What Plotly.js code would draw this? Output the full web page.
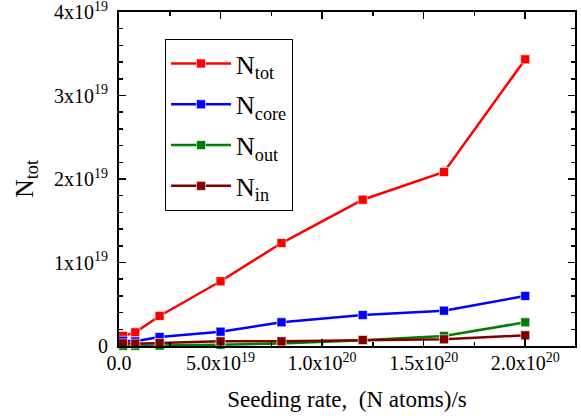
<!DOCTYPE html>
<html>
<head>
<meta charset="utf-8">
<script src="https://cdn.plot.ly/plotly-3.0.1.min.js"></script>
<style>html,body{margin:0;padding:0;background:#fff;}#chart{width:581px;height:419px;}</style>
</head>
<body>
<div id="chart"></div>
<script>
// Seeding rate, (N atoms)/s
const seeding = [2e18, 8e18, 2e19, 5e19, 8e19, 1.2e20, 1.6e20, 2.0e20];
const nTot  = [1.2e18, 1.64e18, 3.6e18, 7.75e18, 1.233e19, 1.752e19, 2.084e19, 3.433e19];
const nCore = [0.63e18, 0.56e18, 1.08e18, 1.71e18, 2.84e18, 3.71e18, 4.23e18, 5.99e18];
const nOut  = [0.02e18, 0.02e18, 0.05e18, 0.15e18, 0.3e18, 0.7e18, 1.2e18, 2.84e18];
const nIn   = [0.32e18, 0.28e18, 0.36e18, 0.56e18, 0.56e18, 0.72e18, 0.8e18, 1.28e18];

const seriesNames  = ['N<sub>tot</sub>', 'N<sub>core</sub>', 'N<sub>out</sub>', 'N<sub>in</sub>'];
const seriesColors = ['#ff0000', '#0000ff', '#008000', '#800000'];
const seriesValues = [nTot, nCore, nOut, nIn];

const xTickVals = [0, 5e19, 1e20, 1.5e20, 2e20];
const xTickText = ['0.0', '5.0x10<sup>19</sup>', '1.0x10<sup>20</sup>', '1.5x10<sup>20</sup>', '2.0x10<sup>20</sup>'];
const yTickVals = [0, 1e19, 2e19, 3e19, 4e19];
const yTickText = ['0', '1x10<sup>19</sup>', '2x10<sup>19</sup>', '3x10<sup>19</sup>', '4x10<sup>19</sup>'];

const font = 'Liberation Serif';

const traces = seriesValues.map((vals, i) => ({
  x: seeding, y: vals, name: seriesNames[i], legendgroup: 'g' + i,
  type: 'scatter', mode: 'lines+markers',
  line: {color: seriesColors[i], width: 2.5},
  marker: {symbol: 'square', size: 9, color: seriesColors[i], line: {color: 'rgba(255,255,255,0.6)', width: 1}},
  cliponaxis: false
}));

const axisCommon = {
  showgrid: false, zeroline: false, showline: true, linecolor: '#000', linewidth: 2,
  ticks: 'inside', ticklen: 7, tickwidth: 1.5, tickcolor: '#000', mirror: 'allticks',
  ticklabeloverflow: 'allow',
  tickfont: {family: font, size: 20, color: '#000'}
};

const layout = {
  width: 581, height: 419,
  margin: {l: 119, r: 6, t: 12, b: 73},
  paper_bgcolor: '#fff', plot_bgcolor: '#fff',
  font: {family: font, color: '#000'},
  showlegend: true,
  legend: {
    x: 0.101, y: 0.919, xanchor: 'left', yanchor: 'top',
    bordercolor: '#000', borderwidth: 1, bgcolor: '#fff',
    font: {family: font, size: 26, color: '#000'},
    itemwidth: 60, tracegroupgap: 4
  },
  xaxis: Object.assign({}, axisCommon, {
    range: [0, 2.245e20],
    tickmode: 'array', tickvals: xTickVals, ticktext: xTickText,
    ticklabelstandoff: -2,
    minor: {dtick: 2.5e19, ticks: 'inside', ticklen: 4, tickwidth: 1.5, tickcolor: '#000'},
    title: {text: 'Seeding rate,  (N atoms)/s', font: {family: font, size: 23, color: '#000'}, standoff: 18}
  }),
  yaxis: Object.assign({}, axisCommon, {
    range: [0, 4e19],
    tickmode: 'array', tickvals: yTickVals, ticktext: yTickText,
    ticklabelstandoff: 5,
    minor: {dtick: 2e18, ticks: 'inside', ticklen: 4, tickwidth: 1.5, tickcolor: '#000'},
    title: {text: 'N<sub>tot</sub>', font: {family: font, size: 26, color: '#000'}, standoff: 13}
  })
};

Plotly.newPlot('chart', traces, layout, {displayModeBar: false, staticPlot: true});
</script>
</body>
</html>
